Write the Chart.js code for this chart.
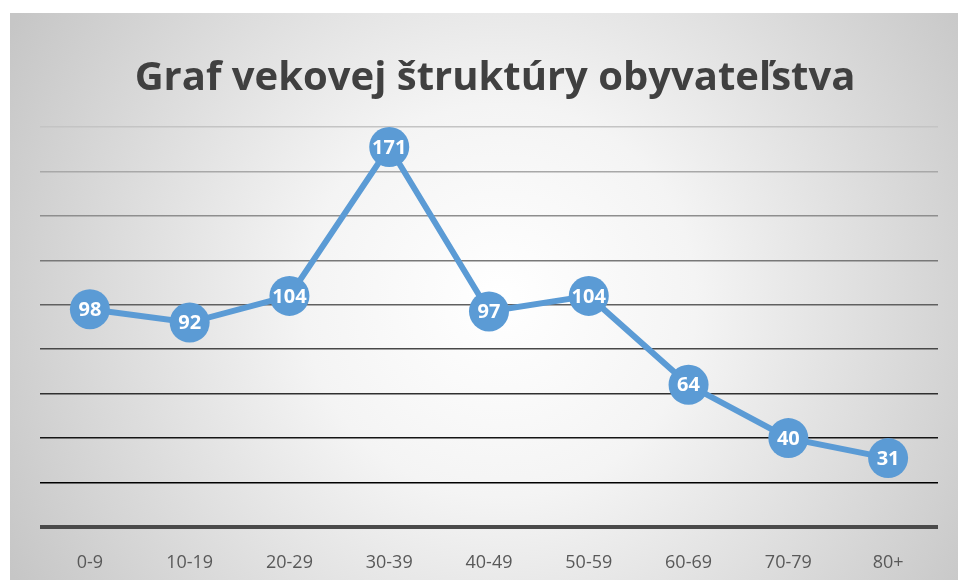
<!DOCTYPE html>
<html>
<head>
<meta charset="utf-8">
<script src="https://cdn.jsdelivr.net/npm/chart.js@4"></script>
<style>
    html, body { margin: 0; padding: 0; background: #fff; overflow: hidden; }
    #wrap { width: 958px; height: 580px; }
</style>
</head>
<body>
<div id="wrap"><canvas id="ageChart"></canvas></div>
<script>
const ageGroups = ["0-9", "10-19", "20-29", "30-39", "40-49", "50-59", "60-69", "70-79", "80+"];
const population = [98, 92, 104, 171, 97, 104, 64, 40, 31];
const chartTitle = "Graf vekovej štruktúry obyvateľstva";

// gridline colours from top (180) down to the base line
const gridColors = {
    180: "#c4c4c4",
    160: "#a8a8a8",
    140: "#8e8e8e",
    120: "#787878",
    100: "#606060",
    80: "#484848",
    60: "#303030",
    40: "#151515",
    20: "#000000",
    0: "#4a4a4a",
};

const backgroundPlugin = {
    id: "bg",
    beforeDraw(chart) {
        const ctx = chart.ctx;
        const x0 = 10, y0 = 13, w = chart.width - x0, h = chart.height - y0;
        ctx.save();
        ctx.fillStyle = "#ffffff";
        ctx.fillRect(0, 0, chart.width, chart.height);
        const g = ctx.createRadialGradient(500, 300, 0, 500, 300, 560);
        g.addColorStop(0, "#ffffff");
        g.addColorStop(0.35, "#f4f4f4");
        g.addColorStop(1, "#c6c6c6");
        ctx.fillStyle = g;
        ctx.fillRect(x0, y0, w, h);
        ctx.restore();
    },
};

const labelPlugin = {
    id: "pointLabels",
    afterDatasetsDraw(chart) {
        const ctx = chart.ctx;
        const meta = chart.getDatasetMeta(0);
        ctx.save();
        ctx.fillStyle = "#ffffff";
        ctx.font = "bold 20px 'Open Sans', sans-serif";
        ctx.textAlign = "center";
        ctx.textBaseline = "middle";
        meta.data.forEach((pt, i) => {
            ctx.fillText(String(population[i]), pt.x, pt.y + 1);
        });
        ctx.restore();
    },
};

new Chart(document.getElementById("ageChart"), {
    type: "line",
    data: {
        labels: ageGroups,
        datasets: [
            {
                label: "Obyvatelia",
                data: population,
                borderColor: "#5b9bd5",
                backgroundColor: "#5b9bd5",
                borderWidth: 6,
                pointRadius: 20,
                pointHoverRadius: 20,
                pointBorderWidth: 0,
                tension: 0,
                clip: false,
            },
        ],
    },
    options: {
        responsive: true,
        maintainAspectRatio: false,
        animation: false,
        events: [],
        layout: {
            padding: { left: 40, right: 8, top: 20, bottom: 6 },
        },
        plugins: {
            legend: { display: false },
            tooltip: { enabled: false },
            title: {
                display: true,
                text: chartTitle,
                color: "#404040",
                font: { family: "'Open Sans', sans-serif", size: 40, weight: "bold" },
                padding: { top: 35, bottom: 24 },
            },
        },
        scales: {
            x: {
                offset: true,
                grid: { display: false, drawTicks: false },
                border: { display: false },
                ticks: {
                    color: "#595959",
                    font: { family: "'Open Sans', sans-serif", size: 18 },
                    padding: 25,
                },
                afterFit(scale) {
                    scale.height = 47;
                },
            },
            y: {
                min: 0,
                max: 180,
                ticks: { display: false, stepSize: 20 },
                border: { display: false },
                grid: {
                    drawTicks: false,
                    color: (c) => gridColors[c.tick.value] || "#888",
                    lineWidth: (c) => (c.tick.value === 0 ? 4 : 1.5),
                },
            },
        },
    },
    plugins: [backgroundPlugin, labelPlugin],
});
</script>
</body>
</html>
